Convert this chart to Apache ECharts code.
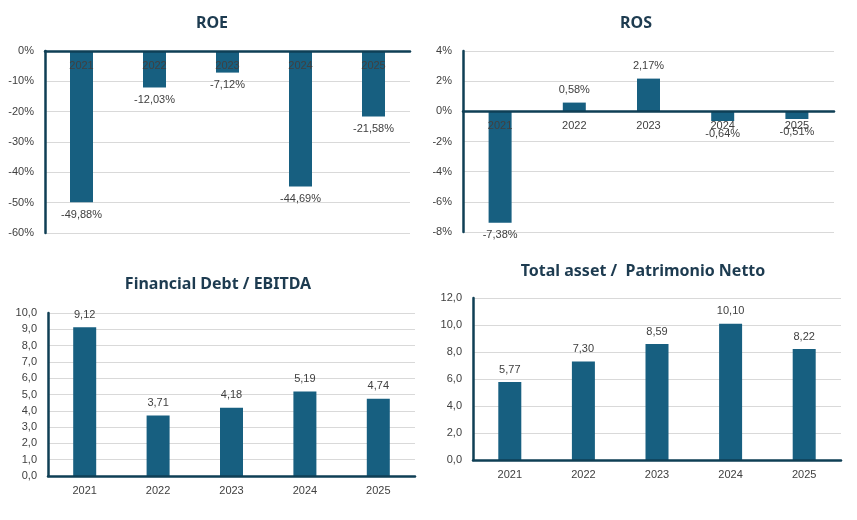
<!DOCTYPE html>
<html>
<head>
<meta charset="utf-8">
<script src="https://cdn.jsdelivr.net/npm/echarts@6/dist/echarts.min.js"></script>
<style>
  html, body { margin: 0; padding: 0; background: #fff; }
  #main { width: 857px; height: 520px; }
</style>
</head>
<body>
<div id="main"></div>
<script>
var years = ['2021', '2022', '2023', '2024', '2025']
var roe = [-49.88, -12.03, -7.12, -44.69, -21.58]
var ros = [-7.38, 0.58, 2.17, -0.64, -0.51]
var debtEbitda = [9.12, 3.71, 4.18, 5.19, 4.74]
var assetEquity = [5.77, 7.30, 8.59, 10.10, 8.22]

var barColor = '#175f80'
var axisColor = '#0f3f55'
var textColor = '#404040'
var titleColor = '#1d3b50'

function comma(v, d) {
    return v.toFixed(d).replace('.', ',')
}

var myChart = echarts.init(document.getElementById('main'))

// le quattro aree del grafico
var grids = [
    { left: 45, top: 51, width: 365, height: 182 },
    { left: 463, top: 51, width: 371, height: 181 },
    { left: 48, top: 313, width: 367, height: 163 },
    { left: 473, top: 298, width: 368, height: 162 }
]

// offset: sposta l'asse delle categorie sulla linea dello zero
function xAxis(i, offset) {
    return {
        type: 'category', gridIndex: i, data: years, z: 5, offset: offset || 0,
        axisLine: { onZero: false, lineStyle: { color: axisColor, width: 2.5 } },
        axisTick: { show: false },
        axisLabel: { color: textColor, fontSize: 11, fontFamily: 'Liberation Sans', margin: 9 }
    }
}

function yAxis(i, min, max, interval, fmt) {
    return {
        type: 'value', gridIndex: i, min: min, max: max, interval: interval,
        axisLine: { show: true, onZero: false, lineStyle: { color: axisColor, width: 2.5 } },
        axisTick: { show: false },
        splitLine: { lineStyle: { color: '#d9d9d9', width: 1 } },
        axisLabel: { color: textColor, fontSize: 11, fontFamily: 'Liberation Sans', margin: 11, formatter: fmt }
    }
}

function bars(i, data, fmt) {
    return {
        type: 'bar', xAxisIndex: i, yAxisIndex: i, data: data, barWidth: 23,
        itemStyle: { color: barColor },
        label: {
            show: true, position: 'outside', distance: 7,
            color: textColor, fontSize: 11, fontFamily: 'Liberation Sans',
            formatter: function (p) { return fmt(p.value) }
        }
    }
}

function title(text, x, y) {
    return {
        text: text, left: x, top: y, textAlign: 'center', padding: 0,
        textStyle: { color: titleColor, fontSize: 16, fontWeight: 'bold', fontFamily: 'Noto Sans' }
    }
}

var pct = function (v) { return comma(v, 2) + '%' }
var num = function (v) { return comma(v, 2) }

myChart.setOption({
    animation: false,
    title: [
        title('ROE', 212, 15),
        title('ROS', 636, 15),
        title('Financial Debt / EBITDA', 218, 276),
        title('Total asset /  Patrimonio Netto', 643, 263)
    ],
    grid: grids,
    xAxis: [xAxis(0, -182), xAxis(1, -120.67), xAxis(2), xAxis(3)],
    yAxis: [
        yAxis(0, -60, 0, 10, function (v) { return v + '%' }),
        yAxis(1, -8, 4, 2, function (v) { return v + '%' }),
        yAxis(2, 0, 10, 1, function (v) { return comma(v, 1) }),
        yAxis(3, 0, 12, 2, function (v) { return comma(v, 1) })
    ],
    series: [
        bars(0, roe, pct),
        bars(1, ros, pct),
        bars(2, debtEbitda, num),
        bars(3, assetEquity, num)
    ]
})
</script>
</body>
</html>
